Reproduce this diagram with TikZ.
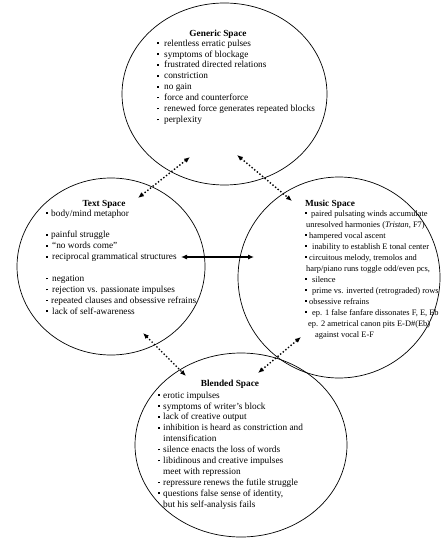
\documentclass[tikz,border=0pt]{standalone}
\usepackage{fontspec}
\setmainfont{Liberation Serif}
\usetikzlibrary{shapes.geometric,arrows.meta}
\newcommand\bul{\makebox[4pt][l]{\rule[2.2pt]{1.6pt}{1.6pt}}}
\begin{document}
\begin{tikzpicture}[x=1pt,y=-1pt,
 space/.style={draw, ellipse, line width=0.7pt, inner sep=0},
 ttl/.style={font=\fontsize{9.3}{10.9}\selectfont\bfseries, anchor=base, inner sep=0},
 blk/.style={font=\fontsize{9.3}{10.9}\selectfont, align=left, anchor=north west, inner sep=0},
 mblk/.style={font=\fontsize{8.4}{11}\selectfont, align=left, anchor=north west, inner sep=0},
 dotarr/.style={line width=1.4pt, dotted, {Latex[length=6pt,width=5pt]}-{Latex[length=6pt,width=5pt]}},
 solarr/.style={line width=1.1pt, {Latex[length=6pt,width=5pt]}-{Latex[length=6pt,width=5pt]}}]
\useasboundingbox (0,0) rectangle (444,553);
\fill[white] (0,0) rectangle (444,553);

\node[space, minimum width=205pt, minimum height=182pt] (gen) at (224.5,94) {};
\node[space, minimum width=188pt, minimum height=177pt] (txt) at (111,266.5) {};
\node[space, minimum width=202pt, minimum height=201pt] (mus) at (339,277.5) {};
\node[space, minimum width=212pt, minimum height=184pt] (bld) at (241,445) {};

\node[ttl] (gent) at (218,36.5) {Generic Space};
\node[blk] (genb) at (157,39.5) {\bul\hspace{3pt}relentless erratic pulses\\
\bul\hspace{3pt}symptoms of blockage\\
\bul\hspace{3pt}frustrated directed relations\\
\bul\hspace{3pt}constriction\\
\bul\hspace{3pt}no gain\\
\bul\hspace{3pt}force and counterforce\\
\bul\hspace{3pt}renewed force generates repeated blocks\\
\bul\hspace{3pt}perplexity};

\node[ttl] (txtt) at (104,206) {Text Space};
\node[blk] (txtb) at (46,209.5) {\bul\hspace{1pt}body/mind metaphor\\
\mbox{}\\
\bul\hspace{1pt}painful struggle\\
\bul\hspace{2pt}``no words come''\\
\bul\hspace{2pt}reciprocal grammatical structures\\
\mbox{}\\
\bul\hspace{2pt}negation\\
\bul\hspace{2pt}rejection vs. passionate impulses\\
\bul\hspace{1pt}repeated clauses and obsessive refrains\\
\bul\hspace{2pt}lack of self-awareness};

\node[ttl] (must) at (330,206) {Music Space};
\node[mblk] (musb) at (305,210) {\bul\hspace{2pt}paired pulsating winds accumulate\\
\hspace*{1pt}unresolved harmonies (\textit{Tristan}, F7)\\
\bul hampered vocal ascent\\
\bul\hspace{3pt}inability to establish E tonal center\\
\bul circuitous melody, tremolos and\\
\hspace*{1pt}harp/piano runs toggle odd/even pcs,\\
\bul\hspace{3pt}silence\\
\bul\hspace{3pt}prime vs. inverted (retrograded) rows\\
\bul obsessive refrains\\
\bul\hspace{3pt}ep. 1 false fanfare dissonates F, E, Eb\\
\hspace*{3pt}ep. 2 ametrical canon pits E-D\#(Eb)\\
\hspace*{10pt}against vocal E-F};

\node[ttl] (bldt) at (230,386) {Blended Space};
\node[blk] (bldb) at (158,391.5) {\bul\hspace{1pt}erotic impulses\\
\bul\hspace{1pt}symptoms of writer's block\\
\bul\hspace{1pt}lack of creative output\\
\bul\hspace{1pt}inhibition is heard as constriction and\\
\hspace*{5pt}intensification\\
\bul\hspace{1pt}silence enacts the loss of words\\
\bul\hspace{1pt}libidinous and creative impulses\\
\hspace*{5pt}meet with repression\\
\bul\hspace{1pt}repressure renews the futile struggle\\
\bul\hspace{1pt}questions false sense of identity,\\
\hspace*{5pt}but his self-analysis fails};

\coordinate (gt1) at (190,157);
\coordinate (gt2) at (138,198);
\coordinate (gm1) at (237,155);
\coordinate (gm2) at (292,201);
\coordinate (tm1) at (181,257);
\coordinate (tm2) at (254,257);
\coordinate (tb1) at (143,333);
\coordinate (tb2) at (186,376);
\coordinate (mb1) at (301,337);
\coordinate (mb2) at (258,373);

\draw[dotarr] (gt1) -- (gt2);
\draw[dotarr] (gm1) -- (gm2);
\draw[solarr] (tm1) -- (tm2);
\draw[dotarr] (tb1) -- (tb2);
\draw[dotarr] (mb1) -- (mb2);
\end{tikzpicture}
\end{document}
